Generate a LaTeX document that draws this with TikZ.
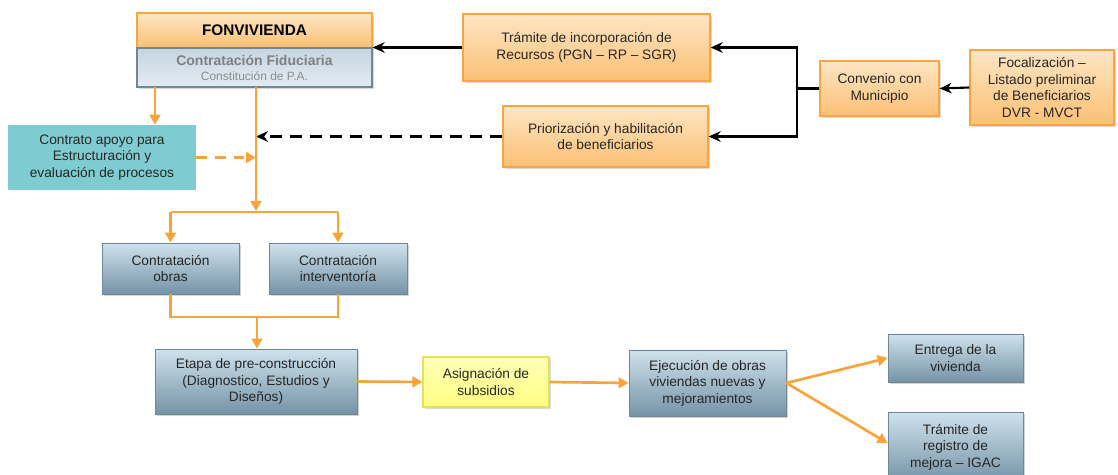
\documentclass[tikz,border=0pt]{standalone}
\usepackage{fontspec}
\setmainfont{Liberation Sans}
\usetikzlibrary{arrows.meta,shadows,calc}
\definecolor{obtop}{HTML}{FEE6C4}
\definecolor{obbot}{HTML}{FBC074}
\definecolor{obdraw}{HTML}{F8A740}
\definecolor{bltop}{HTML}{CFE2EC}
\definecolor{blbot}{HTML}{7593A6}
\definecolor{bldraw}{HTML}{6F8898}
\definecolor{fidtop}{HTML}{C5D5E1}
\definecolor{fidbot}{HTML}{E4ECF2}
\definecolor{tealc}{HTML}{7ECCD1}
\definecolor{ylwtop}{HTML}{FFFFB8}
\definecolor{ylwbot}{HTML}{FFFF80}
\definecolor{ylwdraw}{HTML}{E3E35A}
\definecolor{ocol}{HTML}{F9A33B}
\definecolor{txt}{HTML}{262626}
\tikzset{
  base/.style={rectangle, align=center, inner sep=2pt, text=txt,
    font=\fontsize{10.3}{12.3}\selectfont},
  obox/.style={base, top color=obtop, bottom color=obbot, draw=obdraw, line width=1pt,
    drop shadow={opacity=0.3, shadow xshift=1.5pt, shadow yshift=-1.5pt}},
  bbox/.style={base, top color=bltop, bottom color=blbot, draw=bldraw, line width=0.6pt,
    drop shadow={opacity=0.35, shadow xshift=1.5pt, shadow yshift=-1.5pt}},
  fidbox/.style={base, top color=fidtop, bottom color=fidbot, draw=bldraw, line width=1pt,
    drop shadow={opacity=0.3, shadow xshift=1.5pt, shadow yshift=-1.5pt}},
  tealbox/.style={base, fill=tealc},
  ybox/.style={base, top color=ylwtop, bottom color=ylwbot, draw=ylwdraw, line width=1pt,
    drop shadow={opacity=0.3, shadow xshift=1.5pt, shadow yshift=-1.5pt}},
  karrow/.style={line width=1.6pt, black, -{Stealth[length=9pt,width=8pt]}},
  kline/.style={line width=1.6pt, black},
  oarrow/.style={line width=2pt, ocol, -{Triangle[length=7.5pt,width=8pt]}},
  oconn/.style={line width=2pt, ocol},
}
\begin{document}
\begin{tikzpicture}[x=0.75pt,y=-0.75pt]
\useasboundingbox (0,0) rectangle (1118,475);
% nodes
\node[obox, minimum width=176.25pt, minimum height=26.25pt,
  font=\fontsize{11.5}{13}\selectfont\bfseries, text=black] (fon) at (254.5,30.5) {FONVIVIENDA};
\node[fidbox, minimum width=176.25pt, minimum height=29.25pt, inner sep=0pt] (fid) at (254.5,67.5)
  {{\fontsize{10.5}{12}\selectfont\bfseries\color[HTML]{808080}Contratación Fiduciaria}\\[-1pt]
   {\fontsize{9}{11}\selectfont\color[HTML]{8C8C8C}Constitución de P.A.}};
\node[obox, minimum width=185.25pt, minimum height=50.25pt] (tram) at (586.5,47.5)
  {Trámite de incorporación de\\Recursos (PGN – RP – SGR)};
\node[obox, minimum width=153.75pt, minimum height=45.75pt] (prio) at (605.5,136.5)
  {Priorización y habilitación\\de beneficiarios};
\node[obox, minimum width=89.25pt, minimum height=41.25pt] (conv) at (879.5,88.5)
  {Convenio con\\Municipio};
\node[obox, minimum width=108pt, minimum height=56.25pt] (foc) at (1042,87.5)
  {Focalización –\\Listado preliminar\\de Beneficiarios\\DVR - MVCT};
\node[tealbox, minimum width=141pt, minimum height=48.75pt] (apoyo) at (102,157.5)
  {Contrato apoyo para\\Estructuración y\\evaluación de procesos};
\node[bbox, minimum width=102.75pt, minimum height=38.25pt] (obras) at (170.5,268.5)
  {Contratación\\obras};
\node[bbox, minimum width=103.5pt, minimum height=38.25pt] (interv) at (338,268.5)
  {Contratación\\interventoría};
\node[bbox, minimum width=151.5pt, minimum height=48.75pt] (etapa) at (256,381.5)
  {Etapa de pre-construcción\\(Diagnostico, Estudios y\\Diseños)};
\node[ybox, minimum width=94.5pt, minimum height=37.5pt] (asig) at (486,382)
  {Asignación de\\subsidios};
\node[bbox, minimum width=117.75pt, minimum height=49.5pt] (ejec) at (707.5,383)
  {Ejecución de obras\\viviendas nuevas y\\mejoramientos};
\node[bbox, minimum width=101.25pt, minimum height=36pt] (entrega) at (955.5,358)
  {Entrega de la\\vivienda};
\node[bbox, minimum width=101.25pt, minimum height=52.5pt] (reg) at (955.5,447)
  {Trámite de\\registro de\\mejora – IGAC};
% coordinates
\coordinate (j) at (797,88.5);
\coordinate (trunk) at (256,87);
\coordinate (a1) at (155,87);
\coordinate (sp) at (256,212);
\coordinate (mg) at (257,317);
% black connectors
\draw[karrow] (tram.west) -- (tram.west -| fid.east);
\draw[kline] (conv.west) -- (j);
\draw[karrow] (j) |- (tram.east);
\draw[karrow] (j) |- (prio.east);
\draw[karrow] (foc.west) -- (conv.east);
\draw[karrow, dash pattern=on 9pt off 6pt] (prio.west) -- (prio.west -| trunk);
% orange connectors
\draw[oarrow] (a1) -- (a1 |- apoyo.north);
\draw[oarrow] (trunk) -- ($(sp)+(0,-1)$);
\draw[oarrow, dash pattern=on 8pt off 6pt] (apoyo.east) -- (apoyo.east -| trunk);
\draw[oconn] (obras.north |- sp) -- (interv.north |- sp);
\draw[oarrow] (obras.north |- sp) -- (obras.north);
\draw[oarrow] (interv.north |- sp) -- (interv.north);
\draw[oconn] (obras.south) -- (obras.south |- mg) -- (interv.south |- mg) -- (interv.south);
\draw[oarrow] (mg) -- (mg |- etapa.north);
\draw[oarrow] (etapa.east) -- (asig.west);
\draw[oarrow] (asig.east) -- (ejec.west);
\draw[oarrow] (ejec.east) -- (entrega.west);
\draw[oarrow] (ejec.east) -- ($(reg.west)+(0,-4)$);
\end{tikzpicture}
\end{document}
